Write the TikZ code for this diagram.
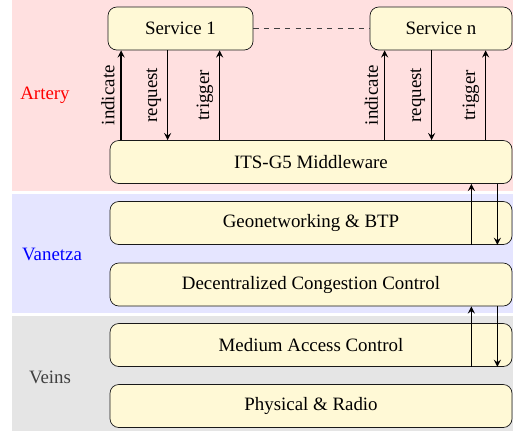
\documentclass[tikz,border=0pt]{standalone}
\usepackage{fontspec}
\setmainfont{Liberation Serif}
\definecolor{boxfill}{RGB}{255,249,214}
\tikzset{
    every node/.style={font=\fontsize{10.75pt}{13pt}\selectfont},
    layerbox/.style={draw=black!90, fill=boxfill, rounded corners=5pt, minimum width=8.04cm, minimum height=0.86cm, inner sep=0pt},
    servicebox/.style={draw=black!90, fill=boxfill, rounded corners=5pt, minimum height=0.86cm, inner sep=0pt},
    call/.style={->, >=stealth, thick},
    calllabel/.style={midway, rotate=90, anchor=south}
}
\begin{document}
\begin{tikzpicture}
        \useasboundingbox (0,0) rectangle (10.26,-8.62);
        % layers
        \fill[red!12] (0.24,0) rectangle (10.26,-3.82);
        \fill[blue!10] (0.24,-3.88) rectangle (10.26,-6.26);
        \fill[black!10] (0.24,-6.32) rectangle (10.26,-8.62);
        \node[text=red] (artery) at (0.9,-1.9) {Artery};
        \node[text=blue] (vanetza) at (1.04,-5.08) {Vanetza};
        \node[text=black!75] (veins) at (1.0,-7.54) {Veins};
        % boxes
        \node[servicebox, minimum width=2.9cm] (svc1) at (3.61,-0.57) {Service 1};
        \node[servicebox, minimum width=2.84cm] (svcn) at (8.82,-0.57) {Service n};
        \node[layerbox] (mw) at (6.22,-3.24) {ITS-G5 Middleware};
        \node[layerbox] (geo) at (6.22,-4.46) {Geonetworking \& BTP};
        \node[layerbox] (dcc) at (6.22,-5.69) {Decentralized Congestion Control};
        \node[layerbox] (mac) at (6.22,-6.9) {Medium Access Control};
        \node[layerbox] (phy) at (6.22,-8.12) {Physical \& Radio};
        \draw[dashed, black!75] (svc1.east) -- (svcn.west);
        \foreach \s/\a/\b/\c in {svc1/0.27/1.2/2.24, svcn/0.3/1.24/2.32} {
            \draw[call] ([xshift=\a cm]\s.south west |- mw.north) -- ([xshift=\a cm]\s.south west) node[calllabel] {indicate};
            \draw[call] ([xshift=\b cm]\s.south west) -- ([xshift=\b cm]\s.south west |- mw.north) node[calllabel] {request};
            \draw[call] ([xshift=\c cm]\s.south west |- mw.north) -- ([xshift=\c cm]\s.south west) node[calllabel] {trigger};
        }
        \foreach \u/\l in {mw/geo, dcc/mac} {
            \draw[call] ([xshift=-0.82cm]\l.south east) -- ([xshift=-0.82cm]\u.south east);
            \draw[call] ([xshift=-0.3cm]\u.south east) -- ([xshift=-0.3cm]\l.south east);
        }
    \end{tikzpicture}
\end{document}
